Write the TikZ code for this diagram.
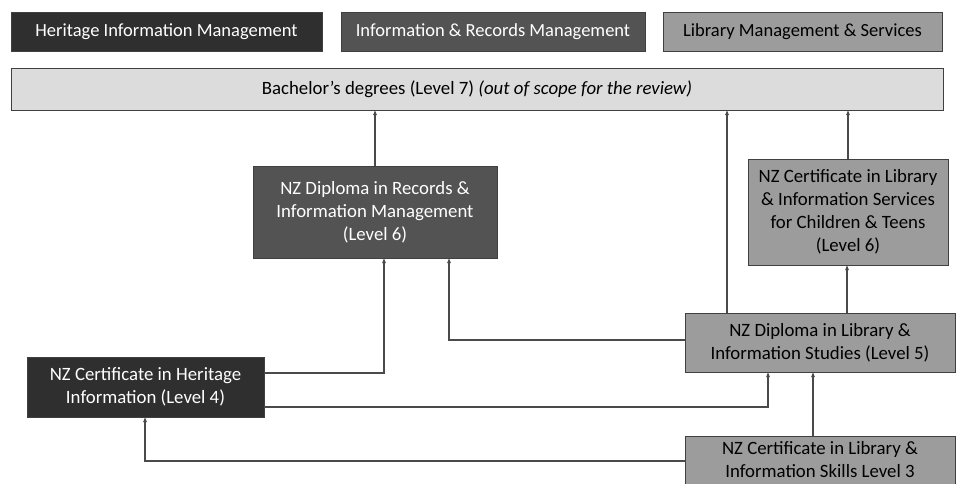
\documentclass[tikz,border=0pt]{standalone}
\usepackage{fontspec}
\setmainfont{Carlito}
\usetikzlibrary{arrows.meta,calc}
\definecolor{herit}{HTML}{2F2F2F}
\definecolor{recs}{HTML}{535353}
\definecolor{libr}{HTML}{9C9C9C}
\definecolor{bach}{HTML}{DCDCDC}
\definecolor{edge}{HTML}{404040}
\definecolor{linec}{HTML}{4A4A4A}
\begin{document}
\begin{tikzpicture}[x=1pt,y=-1pt,
  box/.style={draw=edge,line width=0.8pt,inner sep=1pt,align=center,
    font=\fontsize{18.8}{23}\selectfont,anchor=center},
  hbox/.style={box,fill=herit,text=white},
  rbox/.style={box,fill=recs,text=white},
  lbox/.style={box,fill=libr,text=black},
  legend/.style={font=\fontsize{18.5}{20}\selectfont,minimum height=39pt},
  arr/.style={draw=linec,line width=1.2pt,-{Stealth[length=5pt,width=4pt]}}]
\useasboundingbox (0,0) rectangle (956,484);
% legend
\node[hbox,legend,minimum width=311pt] (leg1) at (166.5,31.5) {Heritage Information Management};
\node[rbox,legend,minimum width=304pt] (leg2) at (493,31.5) {Information \& Records Management};
\node[lbox,legend,minimum width=279pt] (leg3) at (802.5,31.5) {Library Management \& Services};
% bachelor
\node[box,fill=bach,minimum width=932pt,minimum height=42pt,font=\fontsize{18.8}{20}\selectfont] (bach) at (477,89)
  {Bachelor’s degrees (Level 7) \textit{(out of scope for the review)}};
% qualifications
\node[rbox,minimum width=244pt,minimum height=92pt] (rec) at (375,212)
  {NZ Diploma in Records \&\\Information Management\\(Level 6)};
\node[lbox,minimum width=200pt,minimum height=106pt] (child) at (848,212)
  {NZ Certificate in Library\\\& Information Services\\for Children \& Teens\\(Level 6)};
\node[lbox,minimum width=270pt,minimum height=59pt] (libdip) at (820,342.5)
  {NZ Diploma in Library \&\\Information Studies (Level 5)};
\node[hbox,minimum width=237pt,minimum height=60pt] (her) at (145.5,387)
  {NZ Certificate in Heritage\\Information (Level 4)};
\node[lbox,minimum width=270pt,minimum height=48pt] (libcert) at (820,460)
  {NZ Certificate in Library \&\\Information Skills Level 3};
% helper x positions
\coordinate (x727) at (727,0);
\coordinate (x847) at (847,0);
\coordinate (x384) at (384,0);
\coordinate (x449) at (449,0);
\coordinate (x768) at (768,0);
\coordinate (x813) at (813,0);
\coordinate (x145) at (145,0);
\coordinate (y373) at (0,373);
\coordinate (y407) at (0,407);
\coordinate (y340) at (0,340);
\coordinate (y461) at (0,461);
% connectors
\draw[arr] (rec.north) -- (rec.north |- bach.south);
\draw[arr] (libdip.north -| x727) -- (bach.south -| x727);
\draw[arr] (child.north) -- (child.north |- bach.south);
\draw[arr] (libdip.north -| x847) -- (child.south -| x847);
\draw[arr] (libdip.west |- y340) -| (rec.south -| x449);
\draw[arr] (her.east |- y373) -| (rec.south -| x384);
\draw[arr] (her.east |- y407) -| (libdip.south -| x768);
\draw[arr] (libcert.north -| x813) -- (libdip.south -| x813);
\draw[arr] (libcert.west |- y461) -| (her.south -| x145);
\end{tikzpicture}
\end{document}
